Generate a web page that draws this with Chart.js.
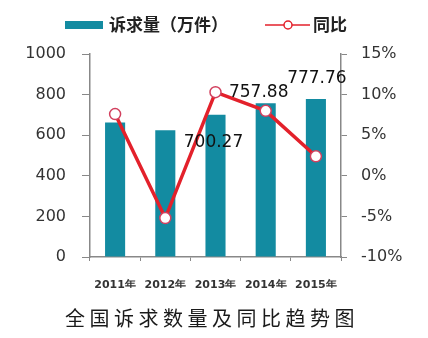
<!DOCTYPE html>
<html>
<head>
<meta charset="utf-8">
<script src="https://cdn.jsdelivr.net/npm/chart.js@4"></script>
<style>
  html, body { margin: 0; padding: 0; background: #fff; }
  #wrap { width: 428px; height: 338px; }
</style>
</head>
<body>
<div id="wrap"><canvas id="appealChart" width="428" height="338"></canvas></div>
<script>
// data
const years = ["2011年", "2012年", "2013年", "2014年", "2015年"];
const appeals = [663, 625, 700.27, 757.88, 777.76];   // 诉求量（万件）
const yoy = [7.6, -5.2, 10.3, 8.0, 2.4];               // 同比 %
const shownLabels = [null, null, "700.27", "757.88", "777.76"];

const TEAL = "#138ba1";
const RED = "#e3212b";
const CJK = "'Noto Sans CJK SC', sans-serif";
const NUM = "'DejaVu Sans', sans-serif";

// value labels near some bars
const labelOffsets = [null, null, [-2, 28], [-7, -11], [1, -21]];
const valueLabels = {
  id: "valueLabels",
  afterDatasetsDraw(chart) {
    const ctx = chart.ctx;
    const x = chart.scales.x, y = chart.scales.y;
    ctx.save();
    ctx.font = "17px " + NUM;
    ctx.fillStyle = "#111";
    ctx.textAlign = "center";
    ctx.textBaseline = "middle";
    shownLabels.forEach((txt, i) => {
      if (!txt) return;
      const off = labelOffsets[i];
      ctx.fillText(txt, x.getPixelForValue(i) + off[0], y.getPixelForValue(appeals[i]) + off[1]);
    });
    ctx.restore();
  }
};

// legend on top and caption under the chart
const legendAndCaption = {
  id: "legendAndCaption",
  afterDraw(chart) {
    const ctx = chart.ctx;
    const bar = chart.data.datasets[1], line = chart.data.datasets[0];
    ctx.save();
    // bar key
    ctx.fillStyle = bar.backgroundColor;
    ctx.fillRect(65, 21, 38, 8);
    // line key
    ctx.strokeStyle = line.borderColor;
    ctx.lineWidth = 1.5;
    ctx.beginPath(); ctx.moveTo(265, 25); ctx.lineTo(310, 25); ctx.stroke();
    ctx.beginPath(); ctx.arc(288, 25, 4, 0, Math.PI * 2);
    ctx.fillStyle = "#fff"; ctx.fill(); ctx.stroke();

    ctx.font = "bold 17px " + CJK;
    ctx.fillStyle = "#222";
    ctx.textBaseline = "middle";
    ctx.fillText(bar.label, 109, 25);
    ctx.fillText(line.label, 313, 25);

    ctx.font = "20px " + CJK;
    ctx.fillStyle = "#1a1a1a";
    ctx.letterSpacing = "4.5px";
    ctx.textAlign = "center";
    ctx.fillText("全国诉求数量及同比趋势图", 212, 318);
    ctx.restore();
  }
};

const ctx = document.getElementById("appealChart").getContext("2d");
new Chart(ctx, {
  data: {
    labels: years,
    datasets: [
      {
        type: "line",
        label: "同比",
        data: yoy,
        yAxisID: "y1",
        borderColor: RED,
        borderWidth: 3.5,
        pointRadius: 5.5,
        pointBorderWidth: 1.5,
        pointBackgroundColor: "#fff",
        pointBorderColor: "#d2405e",
        pointStyle: "circle",
        tension: 0,
        order: 0,
      },
      {
        type: "bar",
        label: "诉求量（万件）",
        data: appeals,
        yAxisID: "y",
        backgroundColor: TEAL,
        categoryPercentage: 1,
        barPercentage: 0.4,
        order: 1,
      },
    ],
  },
  options: {
    responsive: false,
    animation: false,
    layout: { padding: { top: 54, bottom: 50, left: 0, right: 0 } },
    plugins: {
      tooltip: { enabled: false },
      legend: { display: false },
    },
    scales: {
      x: {
        grid: { display: true, drawOnChartArea: false, offset: true, color: "#888", tickLength: 4 },
        border: { color: "#888", width: 1.5 },
        ticks: { color: "#333", padding: 18, font: { family: NUM, size: 11, weight: "bold" } },
        afterFit(s) { s.height = 31; },
      },
      y: {
        position: "left",
        min: 0,
        max: 1000,
        ticks: { stepSize: 200, color: "#333", padding: 16, font: { family: NUM, size: 16 }, callback: (v) => String(v) },
        grid: { drawOnChartArea: false, color: "#888", tickLength: 8 },
        border: { color: "#888", width: 1.5 },
        afterFit(s) { s.width = 90; },
      },
      y1: {
        position: "right",
        min: -10,
        max: 15,
        ticks: { stepSize: 5, color: "#333", padding: 14, font: { family: NUM, size: 16 }, callback: (v) => v + "%" },
        grid: { drawOnChartArea: false, color: "#888", tickLength: 6 },
        border: { color: "#888", width: 1.5 },
        afterFit(s) { s.width = 87; },
      },
    },
  },
  plugins: [valueLabels, legendAndCaption],
});
</script>
</body>
</html>
